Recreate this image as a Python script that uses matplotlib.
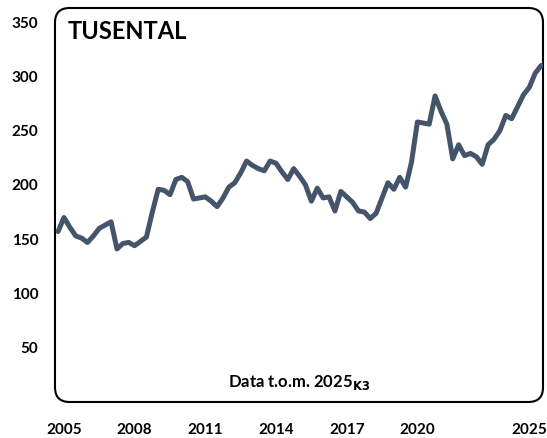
import numpy as np
import matplotlib
matplotlib.use("Agg")
import matplotlib.pyplot as plt
from matplotlib.patches import FancyBboxPatch

plt.rcParams['font.family'] = ['Lato', 'DejaVu Sans']
plt.rcParams['font.weight'] = 'bold'

# Kvartalsdata 2005K1 - 2025K3 (tusental)
start_year = 2005
values = [157, 170, 161, 153, 151, 147, 153, 160, 163, 166,
          141, 146, 147, 144, 148, 152, 175, 196, 195, 191,
          205, 207, 203, 187, 188, 189, 185, 180, 188, 198,
          202, 211, 222, 218, 215, 213, 222, 220, 212, 205,
          215, 208, 200, 185, 197, 188, 189, 176, 194, 189,
          184, 176, 175, 169, 174, 188, 202, 196, 207, 198,
          221, 258, 257, 256, 282, 268, 256, 224, 237, 227,
          229, 226, 219, 237, 242, 250, 264, 261, 272, 283,
          290, 303, 310]
tick_years = [2005, 2008, 2011, 2014, 2017, 2020, 2025]
y_ticks = [50, 100, 150, 200, 250, 300, 350]

t = start_year + np.arange(len(values)) / 4

fig = plt.figure(figsize=(5.47, 4.38), dpi=100)
ax = fig.add_axes([55 / 547, 1 - 402 / 438, 488 / 547, 394 / 438])

ax.plot(t, values, color='#44546A', lw=3.6, solid_joinstyle='round', solid_capstyle='round')

ax.set_xlim(2004.87, 2025.58)
ax.set_ylim(0, 363)

ax.set_yticks(y_ticks)
ax.set_yticklabels([str(v) for v in y_ticks], fontsize=11, fontweight='bold')
# sista etiketten hamnar lite till vänster (som i originalet)
tick_pos = [y + 0.25 for y in tick_years[:-1]] + [tick_years[-1]]
ax.set_xticks(tick_pos)
ax.set_xticklabels([str(y) for y in tick_years], fontsize=11, fontweight='bold')
ax.tick_params(axis='y', length=0, pad=12)
ax.tick_params(axis='x', length=0, pad=15)

for s in ax.spines.values():
    s.set_visible(False)

box = FancyBboxPatch((0, 0), 1, 1, boxstyle='round,pad=0,rounding_size=0.03',
                     transform=ax.transAxes, fill=False, ec='black', lw=1.5,
                     clip_on=False, mutation_aspect=488 / 394)
ax.add_patch(box)

ax.text(0.025, 0.97, 'TUSENTAL', transform=ax.transAxes, fontsize=17,
        fontweight='bold', ha='left', va='top')
ax.text(0.5, 0.05, r'Data t.o.m. 2025$_{\mathbf{K3}}$', transform=ax.transAxes,
        fontsize=12, fontweight='bold', ha='center', va='center')

fig.savefig('out.png', dpi=100)
